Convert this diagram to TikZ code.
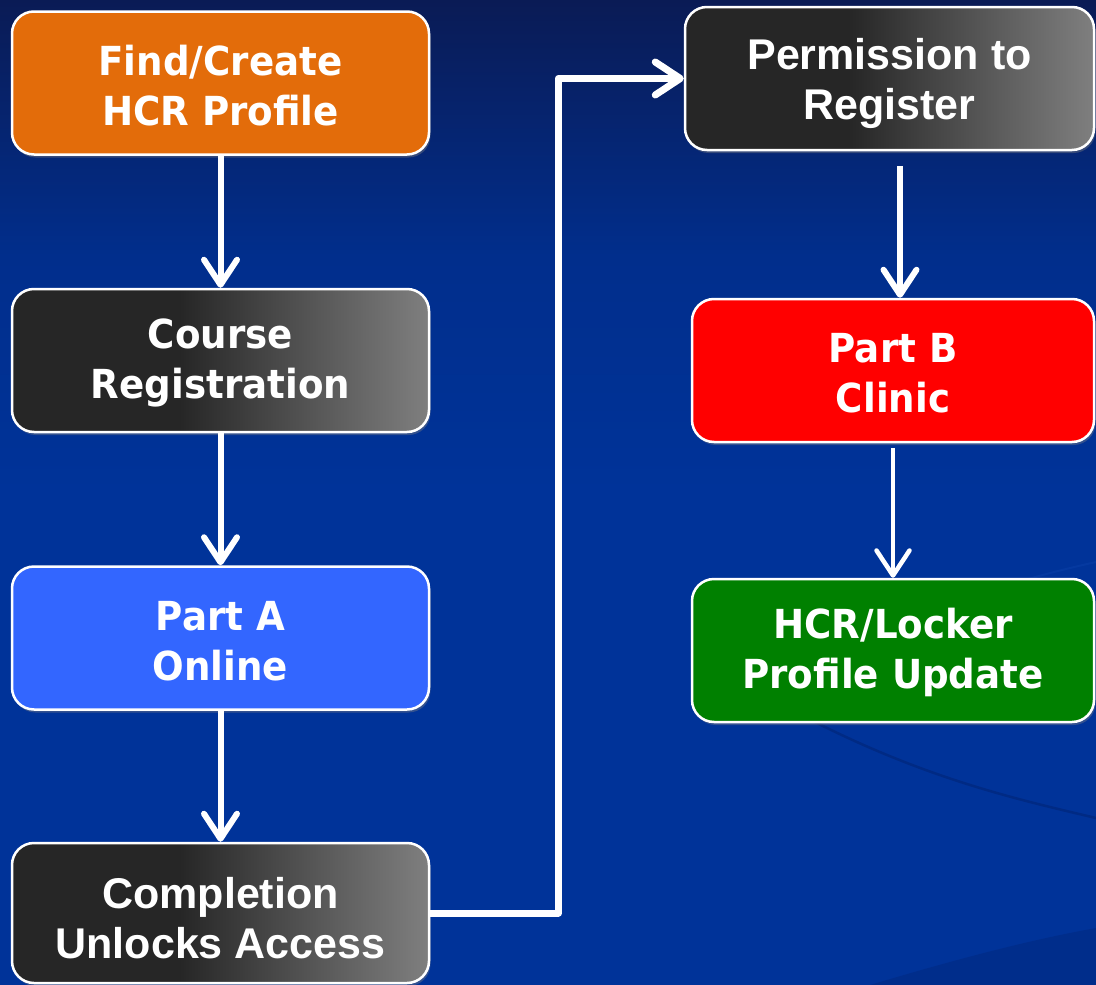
\documentclass[tikz,border=0pt]{standalone}
\usepackage{fontspec}
\usetikzlibrary{arrows.meta,shadows,calc}
\newfontfamily\tahomaf[FakeStretch=0.93]{DejaVu Sans}
\newfontfamily\arialf{Liberation Sans}
\newcommand{\lowerstrut}{\rule{0pt}{42pt}}
\newcommand{\tahstrut}{\rule{0pt}{35pt}}
\definecolor{bgtop}{HTML}{0A1B55}
\definecolor{bgmid}{HTML}{012E8C}
\definecolor{bgbot}{HTML}{003399}
\definecolor{boxdark}{HTML}{262626}
\definecolor{boxgray}{HTML}{7F7F7F}
\definecolor{orangebox}{HTML}{E36C0A}
\definecolor{bluebox}{HTML}{3366FF}
\definecolor{redbox}{HTML}{FF0000}
\definecolor{greenbox}{HTML}{008000}
\definecolor{swooshdark}{HTML}{00287F}
\definecolor{swooshlight}{HTML}{0A3FA8}
\pgfdeclarehorizontalshading{darkgrad}{100bp}{color(0bp)=(boxdark); color(25bp)=(boxdark); color(45bp)=(boxdark); color(75bp)=(boxgray); color(100bp)=(boxgray)}
\pgfdeclareverticalshading{bgshade}{100bp}{color(0bp)=(bgbot); color(25bp)=(bgbot); color(50bp)=(bgbot); color(62bp)=(bgmid); color(75bp)=(bgtop); color(100bp)=(bgtop)}
\tikzset{
  boxbase/.style={rounded corners=22pt, draw=white, line width=2.5pt, text=white, align=center,
    minimum height=143pt, inner sep=0pt,
    drop shadow={opacity=0.4, shadow xshift=1.5pt, shadow yshift=-3pt}},
  tahomatext/.style={font=\tahomaf\bfseries\fontsize{40}{50}\selectfont},
  arialtext/.style={font=\arialf\bfseries\fontsize{43}{50}\selectfont},
  leftbox/.style={boxbase, minimum width=417pt},
  darkbox/.style={shade, shading=darkgrad},
  arr/.style={draw=white, line width=6pt, line join=round,
    -{Straight Barb[length=25pt,width=33pt,round]}},
}
\begin{document}
\begin{tikzpicture}[x=1pt,y=-1pt]
\useasboundingbox (0,0) rectangle (1096,985);
\fill[shading=bgshade] (0,0) rectangle (1096,985);
% background swooshes
\fill[swooshdark, opacity=0.5] (870,985) .. controls (970,955) and (1040,938) .. (1096,928) -- (1096,985) -- cycle;
\draw[swooshdark, line width=2.5pt, opacity=0.8] (815,722) .. controls (930,780) and (1020,800) .. (1096,818);
\draw[swooshlight, line width=2pt, opacity=0.5] (990,590) .. controls (1030,578) and (1060,570) .. (1096,562);

% left column
\node[leftbox, tahomatext, fill=orangebox] (b1) at (220.5,83) {\tahstrut Find/Create\\HCR Profile};
\node[leftbox, tahomatext, darkbox] (b2) at (220.5,360.5) {\tahstrut Course\\Registration};
\node[leftbox, tahomatext, fill=bluebox] (b3) at (220.5,638) {\tahstrut Part A\\Online};
\node[leftbox, arialtext, darkbox, minimum height=140pt] (b4) at (220.5,913) {\lowerstrut Completion\\Unlocks Access};
% right column
\node[boxbase, arialtext, darkbox, minimum width=409pt] (b5) at (889.5,78.5) {\lowerstrut Permission to\\Register};
\node[boxbase, tahomatext, fill=redbox, minimum width=402pt] (b6) at (893,370.5) {\tahstrut Part B\\Clinic};
\node[boxbase, tahomatext, fill=greenbox, minimum width=402pt] (b7) at (893,650.5) {\tahstrut HCR/Locker\\Profile Update};

% connectors
\draw[arr] (b1.south) -- (b2.north);
\draw[arr] (b2.south) -- (b3.north);
\draw[arr] (b3.south) -- (b4.north);
\draw[arr, line width=7pt] (b4.east) -- ++(128,0) |- (b5.west);
\draw[arr] ([xshift=10.5pt,yshift=-15pt]b5.south) -- ([xshift=7pt]b6.north);
\draw[arr, line width=4.5pt] ([yshift=-5pt]b6.south) -- (b7.north);
\end{tikzpicture}
\end{document}
